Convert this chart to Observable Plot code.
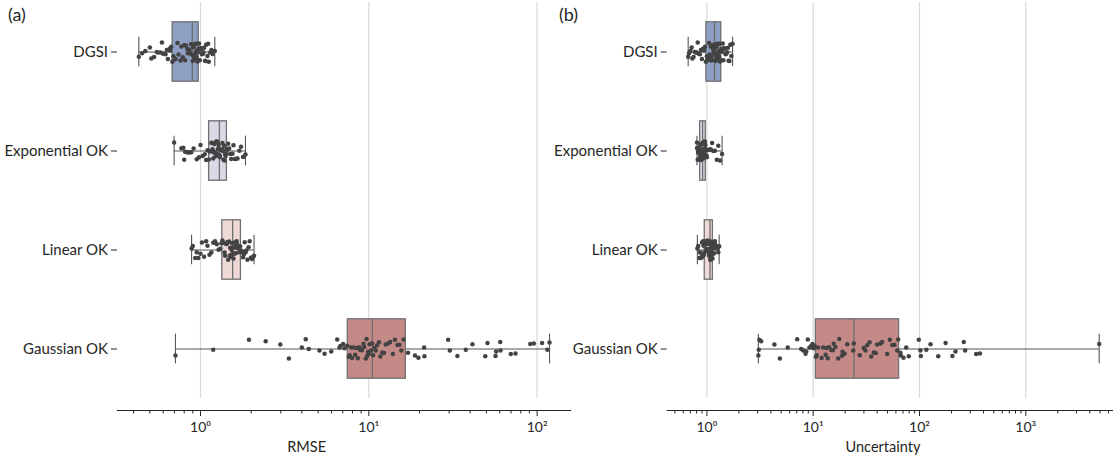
<!DOCTYPE html>
<html><head><meta charset="utf-8">
<script src="https://cdn.jsdelivr.net/npm/d3@7"></script>
<script src="https://cdn.jsdelivr.net/npm/@observablehq/plot@0.6"></script>
<style>
html,body{margin:0;padding:0;background:#fff;overflow:hidden;}
#wrap{position:relative;width:1113px;height:459px;font-family:Lato,sans-serif;color:#262626;}
#wrap svg{position:absolute;top:0;}
.lbl{position:absolute;white-space:nowrap;line-height:1;}
</style></head><body><div id="wrap"></div>
<script>
// ---------- data ----------
const categories = ["DGSI", "Exponential OK", "Linear OK", "Gaussian OK"];
const boxColors = ["#8da0c1", "#d9dae5", "#eed9d7", "#c48a87"];

// RMSE box statistics (panel a)
const rmseMin    = [0.43, 0.697, 0.885, 0.71];
const rmseQ1     = [0.683, 1.125, 1.347, 7.5];
const rmseMedian = [0.894, 1.295, 1.552, 10.5];
const rmseQ3     = [0.976, 1.435, 1.738, 16.6];
const rmseMax    = [1.216, 1.85, 2.08, 118.5];

// Uncertainty box statistics (panel b)
const uncMin    = [0.667, 0.807, 0.814, 3.05];
const uncQ1     = [0.99, 0.865, 0.955, 10.6];
const uncMedian = [1.18, 0.912, 1.07, 24.2];
const uncQ3     = [1.366, 0.976, 1.139, 64.3];
const uncMax    = [1.745, 1.39, 1.305, 4900];

// RMSE per-site values
const rmseDGSI = [0.43, 0.45, 0.47, 0.5, 0.51, 0.53, 0.55, 0.56, 0.58, 0.59, 0.6, 0.62, 0.63, 0.64, 0.655, 0.66, 0.67, 0.68,
  0.69, 0.705, 0.71, 0.73, 0.74, 0.76, 0.77, 0.785, 0.8, 0.81, 0.82, 0.835, 0.84, 0.855, 0.86, 0.87, 0.88, 0.89,
  0.9, 0.905, 0.91, 0.918, 0.92, 0.927, 0.93, 0.936, 0.94, 0.944, 0.95, 0.953, 0.96, 0.962, 0.968, 0.972, 0.975,
  0.98, 0.99, 1.0, 1.01, 1.02, 1.035, 1.04, 1.05, 1.065, 1.07, 1.08, 1.1, 1.11, 1.12, 1.14, 1.16, 1.18, 1.216];
const rmseExponential = [0.697, 0.77, 0.79, 0.8, 0.81, 0.83, 0.84, 0.86, 0.88, 0.91, 0.95, 0.98, 1.0, 1.03, 1.06, 1.08, 1.1, 1.12,
  1.13, 1.14, 1.15, 1.16, 1.17, 1.18, 1.19, 1.2, 1.21, 1.22, 1.23, 1.24, 1.25, 1.26, 1.27, 1.28, 1.29,
  1.3, 1.305, 1.31, 1.32, 1.33, 1.34, 1.35, 1.36, 1.365, 1.37, 1.38, 1.39, 1.4, 1.41, 1.42, 1.43,
  1.44, 1.46, 1.48, 1.5, 1.52, 1.55, 1.57, 1.6, 1.63, 1.66, 1.7, 1.74, 1.79, 1.85];
const rmseLinear = [0.885, 0.9, 0.93, 0.95, 0.97, 1.0, 1.02, 1.05, 1.08, 1.1, 1.13, 1.16, 1.19, 1.22, 1.25, 1.28, 1.31, 1.33,
  1.35, 1.37, 1.39, 1.4, 1.42, 1.44, 1.45, 1.46, 1.48, 1.49, 1.5, 1.51, 1.52, 1.53, 1.54, 1.55,
  1.56, 1.57, 1.58, 1.59, 1.6, 1.61, 1.62, 1.63, 1.64, 1.65, 1.66, 1.67, 1.68, 1.69, 1.7, 1.72, 1.73,
  1.75, 1.77, 1.79, 1.81, 1.83, 1.85, 1.87, 1.9, 1.93, 1.96, 1.99, 2.02, 2.05, 2.08];
const rmseGaussian = [0.71, 1.19, 1.94, 2.44, 2.98, 3.35, 4.0, 4.22, 4.4, 5.09, 5.46, 5.98, 6.49, 6.7, 6.79, 7.04, 7.17, 7.44,
  7.6, 7.7, 7.85, 7.95, 8.1, 8.3, 8.45, 8.6, 8.8, 8.9, 9.1, 9.3, 9.4, 9.6, 9.7, 9.8, 9.9, 10.0, 10.1, 10.3, 10.45,
  10.6, 10.8, 11.0, 11.2, 11.5, 11.7, 12.0, 12.3, 12.6, 13.0, 13.4, 13.9, 14.3, 14.8, 15.2, 15.6, 16.1,
  17.1, 18.8, 19.7, 21.3, 21.4, 29.6, 30.3, 33.6, 37.7, 41.3, 49.2, 50.7, 56.6, 57.1, 60.4, 60.6, 69.8, 74.4,
  91.0, 95.6, 107, 115, 118.5];

// Uncertainty per-site values
const uncDGSI = [0.667, 0.68, 0.7, 0.72, 0.73, 0.75, 0.77, 0.79, 0.8, 0.82, 0.84, 0.86, 0.88, 0.9, 0.92, 0.94, 0.96, 0.98,
  1.0, 1.02, 1.03, 1.05, 1.06, 1.08, 1.09, 1.1, 1.11, 1.12, 1.13, 1.14, 1.15, 1.16, 1.17, 1.18,
  1.19, 1.2, 1.21, 1.22, 1.23, 1.24, 1.25, 1.26, 1.27, 1.28, 1.29, 1.3, 1.31, 1.32, 1.33, 1.34, 1.35,
  1.37, 1.39, 1.41, 1.43, 1.45, 1.47, 1.5, 1.52, 1.55, 1.58, 1.6, 1.63, 1.66, 1.7, 1.745];
const uncExponential = [0.807, 0.81, 0.815, 0.82, 0.825, 0.83, 0.835, 0.84, 0.845, 0.85, 0.855, 0.86,
  0.865, 0.87, 0.875, 0.88, 0.885, 0.89, 0.895, 0.9, 0.905, 0.91,
  0.915, 0.92, 0.925, 0.93, 0.935, 0.94, 0.945, 0.95, 0.955, 0.96, 0.965, 0.97,
  0.98, 0.99, 1.0, 1.02, 1.04, 1.06, 1.09, 1.12, 1.15, 1.19, 1.24, 1.28, 1.33, 1.39];
const uncLinear = [0.814, 0.83, 0.85, 0.86, 0.88, 0.89, 0.9, 0.91, 0.92, 0.93, 0.94, 0.95,
  0.96, 0.97, 0.98, 0.99, 1.0, 1.01, 1.02, 1.03, 1.04, 1.05, 1.06, 1.065,
  1.07, 1.075, 1.08, 1.085, 1.09, 1.095, 1.1, 1.105, 1.11, 1.115, 1.12, 1.13, 1.135,
  1.14, 1.15, 1.16, 1.17, 1.18, 1.19, 1.2, 1.21, 1.22, 1.24, 1.26, 1.28, 1.305];
const uncGaussian = [3.05, 3.08, 3.12, 3.24, 4.32, 4.86, 5.77, 7.07, 7.71, 8.05, 8.47, 8.6, 8.9, 9.23, 9.58, 9.85, 10.1, 10.3,
  10.6, 10.8, 11.1, 12.0, 12.4, 13.1, 13.3, 13.7, 14.1, 14.8, 15.3, 15.6, 16.2, 17.2, 17.6, 18.7, 18.9, 19.7, 20.9, 23.8,
  24.1, 27.4, 29.9, 31.0, 32.2, 33.9, 35.2, 37.2, 38.8, 40.0, 43.0, 44.6, 49.7, 52.6, 55.4, 58.2, 61.7, 63.0,
  66.2, 66.7, 70.7, 75.0, 79.3, 98.5, 102, 103, 116, 127, 150, 176, 204, 218, 261, 269, 341, 370, 4900];

// tick values
const rmseMajor = [1, 10, 100];
const rmseMinor = [0.4, 0.5, 0.6, 0.7, 0.8, 0.9, 2, 3, 4, 5, 6, 7, 8, 9, 20, 30, 40, 50, 60, 70, 80, 90];
const uncMajor = [1, 10, 100, 1000];
const uncMinor = [0.5, 0.6, 0.7, 0.8, 0.9, 2, 3, 4, 5, 6, 7, 8, 9, 20, 30, 40, 50, 60, 70, 80, 90,
  200, 300, 400, 500, 600, 700, 800, 900, 2000, 3000, 4000, 5000, 6000];

// ---------- drawing ----------
// deterministic strip-plot jitter (layout only), within ±0.1 of a row
const jit = (i, k) => {
  const s = Math.sin((k + 1) * 12.9898 + (i + 1) * 78.233) * 43758.5453;
  return ((s - Math.floor(s)) - 0.5) * 0.2;
};

function makePanel({mins, q1s, meds, q3s, maxs, series, domain, width, marginLeft, marginRight, major, minor}) {
  const rows = categories.map((c, i) => ({i, min: mins[i], q1: q1s[i], med: meds[i], q3: q3s[i], max: maxs[i], color: boxColors[i]}));
  const pts = series.flatMap((vals, i) => vals.map((v, k) => ({v, y: i + jit(i, k)})));
  const sup = {"0": "⁰", "1": "¹", "2": "²", "3": "³"};
  return Plot.plot({
    width, height: 459,
    marginLeft, marginRight, marginTop: 2, marginBottom: 49,
    style: {background: "transparent", color: "#262626", fontFamily: "Lato, sans-serif", overflow: "visible"},
    x: {type: "log", domain},
    y: {type: "linear", domain: [-0.5, 3.5], range: [2, 398]},
    color: {type: "identity"},
    marks: [
      Plot.ruleX(major, {y1: -0.5, y2: 3.5, stroke: "#d8d8d8", strokeWidth: 1.2}),
      Plot.ruleY(rows, {x1: "min", x2: "max", y: "i", stroke: "#555555", strokeWidth: 1.1}),
      Plot.ruleX(rows, {x: "min", y1: d => d.i - 0.15, y2: d => d.i + 0.15, stroke: "#555555", strokeWidth: 1.1}),
      Plot.ruleX(rows, {x: "max", y1: d => d.i - 0.15, y2: d => d.i + 0.15, stroke: "#555555", strokeWidth: 1.1}),
      Plot.rect(rows, {x1: "q1", x2: "q3", y1: d => d.i - 0.3, y2: d => d.i + 0.3, fill: "color", stroke: "#707070", strokeWidth: 1.3}),
      Plot.ruleX(rows, {x: "med", y1: d => d.i - 0.3, y2: d => d.i + 0.3, stroke: "#707070", strokeWidth: 1.3}),
      Plot.dot(pts, {x: "v", y: "y", r: 2.25, fill: "#434343", stroke: null}),
      Plot.axisY({ticks: [0, 1, 2, 3], tickFormat: i => categories[i], tickSize: 6, tickPadding: 3.5, fontSize: 15, label: null, anchor: "left"}),
      Plot.axisX({ticks: major, tickFormat: d => "10" + sup[String(Math.round(Math.log10(d)))], tickSize: 6, tickPadding: 6, fontSize: 14, label: null, anchor: "bottom"}),
      Plot.axisX({ticks: minor, tickFormat: () => "", tickSize: 3.5, label: null, anchor: "bottom"}),
      Plot.frame({anchor: "bottom", stroke: "#262626", strokeWidth: 1.2})
    ]
  });
}

const wrap = document.getElementById("wrap");

const left = makePanel({
  mins: rmseMin, q1s: rmseQ1, meds: rmseMedian, q3s: rmseQ3, maxs: rmseMax,
  series: [rmseDGSI, rmseExponential, rmseLinear, rmseGaussian],
  domain: [0.3212, 157.9], width: 580, marginLeft: 117, marginRight: 10,
  major: rmseMajor, minor: rmseMinor
});
left.style.left = "0px";
wrap.appendChild(left);

const right = makePanel({
  mins: uncMin, q1s: uncQ1, meds: uncMedian, q3s: uncQ3, maxs: uncMax,
  series: [uncDGSI, uncExponential, uncLinear, uncGaussian],
  domain: [0.4235, 6683], width: 573, marginLeft: 126.7, marginRight: 0,
  major: uncMajor, minor: uncMinor
});
right.style.left = "540px";
wrap.appendChild(right);

function addLabel(text, x, y, size, anchor) {
  const d = document.createElement("div");
  d.className = "lbl";
  d.textContent = text;
  d.style.fontSize = size + "px";
  d.style.top = y + "px";
  d.style.left = x + "px";
  if (anchor === "middle") d.style.transform = "translateX(-50%)";
  wrap.appendChild(d);
}
addLabel("(a)", 8, 5, 18);
addLabel("(b)", 559, 5, 18);
addLabel("RMSE", 306.7, 440, 14.5, "middle");
addLabel("Uncertainty", 883, 440, 14.5, "middle");
</script></body></html>
